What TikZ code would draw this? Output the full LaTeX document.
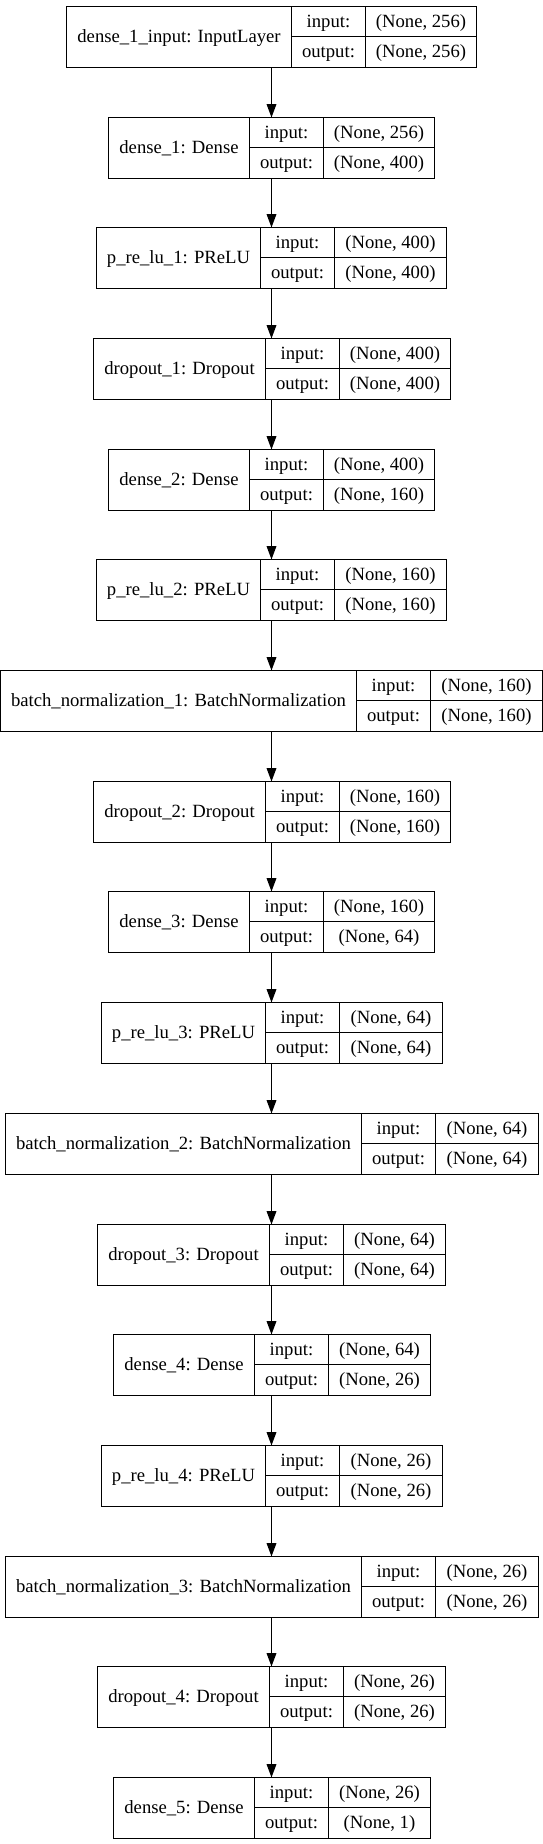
\documentclass[tikz,border=0pt]{standalone}
\usepackage{fontspec}
\setmainfont{Liberation Serif}
\usetikzlibrary{arrows.meta}
\newlength\LWa \newlength\LWb \newlength\LWc \newlength\LWm
\newcommand\boxfont{\normalfont\fontsize{18.67pt}{22pt}\selectfont}
\tikzset{
  cell/.style={draw, line width=1.33pt, inner sep=0pt, outer sep=0pt,
    text height=13.2pt, text depth=2pt, font=\boxfont, anchor=north west},
  layer/.style={inner sep=0pt, outer sep=0pt, minimum height=61pt},
  arr/.style={line width=1.33pt, -{Triangle[length=13.3pt, width=9.6pt]}}
}
% measure one layer record (outside the picture) and store its widths and texts
\newcommand\deflayer[4]{%
  \settowidth\LWa{\boxfont #2}%
  \settowidth\LWb{\boxfont #3}%
  \settowidth\LWc{\boxfont #4}%
  \settowidth\LWm{\boxfont output:}%
  \pgfmathsetmacro\tmpL{\LWa+21.33}\expandafter\xdef\csname mLw#1\endcsname{\tmpL}%
  \pgfmathsetmacro\tmpM{\LWm+21.33}\expandafter\xdef\csname mMw#1\endcsname{\tmpM}%
  \pgfmathsetmacro\tmpV{max(\LWb,\LWc)+21.33}\expandafter\xdef\csname mVw#1\endcsname{\tmpV}%
  \expandafter\gdef\csname mT#1\endcsname{#2}%
  \expandafter\gdef\csname mI#1\endcsname{#3}%
  \expandafter\gdef\csname mO#1\endcsname{#4}%
}
\newcommand\layerbox[1]{%
  \edef\Lw{\csname mLw#1\endcsname}%
  \edef\Mw{\csname mMw#1\endcsname}%
  \edef\Vw{\csname mVw#1\endcsname}%
  \pgfmathsetmacro\Tw{\Lw+\Mw+\Vw}%
  \pgfmathsetmacro\Xa{round(271.5-\Tw/2)+0.5}%
  \pgfmathsetmacro\Xb{round(\Xa+\Lw-0.5)+0.5}%
  \pgfmathsetmacro\Xc{round(\Xb+\Mw-0.5)+0.5}%
  \pgfmathsetmacro\Xd{round(\Xa+\Tw-0.5)+0.5}%
  \pgfmathsetmacro\La{\Xb-\Xa}%
  \pgfmathsetmacro\Ma{\Xc-\Xb}%
  \pgfmathsetmacro\Va{\Xd-\Xc}%
  \pgfmathsetmacro\Ya{round(5.9+110.7*#1)+0.5}%
  \pgfmathsetmacro\Yb{\Ya+30}%
  \pgfmathsetmacro\Ym{\Ya+30.5}%
  \node[layer, minimum width=\Tw pt] (b#1) at (271.5,\Ym) {};
  \node[cell, minimum width=\La pt, minimum height=61pt] (b#1-l) at (\Xa,\Ya) {\csname mT#1\endcsname};
  \node[cell, minimum width=\Ma pt, minimum height=30pt] (b#1-ik) at (\Xb,\Ya) {input:};
  \node[cell, minimum width=\Ma pt, minimum height=31pt] (b#1-ok) at (\Xb,\Yb) {output:};
  \node[cell, minimum width=\Va pt, minimum height=30pt] (b#1-iv) at (\Xc,\Ya) {\csname mI#1\endcsname};
  \node[cell, minimum width=\Va pt, minimum height=31pt] (b#1-ov) at (\Xc,\Yb) {\csname mO#1\endcsname};
}
\AtBeginDocument{%
\deflayer{0}{dense\_1\_input: InputLayer}{(None, 256)}{(None, 256)}%
\deflayer{1}{dense\_1: Dense}{(None, 256)}{(None, 400)}%
\deflayer{2}{p\_re\_lu\_1: PReLU}{(None, 400)}{(None, 400)}%
\deflayer{3}{dropout\_1: Dropout}{(None, 400)}{(None, 400)}%
\deflayer{4}{dense\_2: Dense}{(None, 400)}{(None, 160)}%
\deflayer{5}{p\_re\_lu\_2: PReLU}{(None, 160)}{(None, 160)}%
\deflayer{6}{batch\_normalization\_1: BatchNormalization}{(None, 160)}{(None, 160)}%
\deflayer{7}{dropout\_2: Dropout}{(None, 160)}{(None, 160)}%
\deflayer{8}{dense\_3: Dense}{(None, 160)}{(None, 64)}%
\deflayer{9}{p\_re\_lu\_3: PReLU}{(None, 64)}{(None, 64)}%
\deflayer{10}{batch\_normalization\_2: BatchNormalization}{(None, 64)}{(None, 64)}%
\deflayer{11}{dropout\_3: Dropout}{(None, 64)}{(None, 64)}%
\deflayer{12}{dense\_4: Dense}{(None, 64)}{(None, 26)}%
\deflayer{13}{p\_re\_lu\_4: PReLU}{(None, 26)}{(None, 26)}%
\deflayer{14}{batch\_normalization\_3: BatchNormalization}{(None, 26)}{(None, 26)}%
\deflayer{15}{dropout\_4: Dropout}{(None, 26)}{(None, 26)}%
\deflayer{16}{dense\_5: Dense}{(None, 26)}{(None, 1)}%
}
\begin{document}
\begin{tikzpicture}[x=1pt,y=-1pt]
\useasboundingbox[fill=white] (0,0) rectangle (543,1844);
\foreach \k in {0,...,16} {\layerbox{\k}}
\foreach \i [evaluate=\i as \j using int(\i+1)] in {0,...,15}
  \draw[arr] (b\i) -- (b\j);
\end{tikzpicture}
\end{document}
